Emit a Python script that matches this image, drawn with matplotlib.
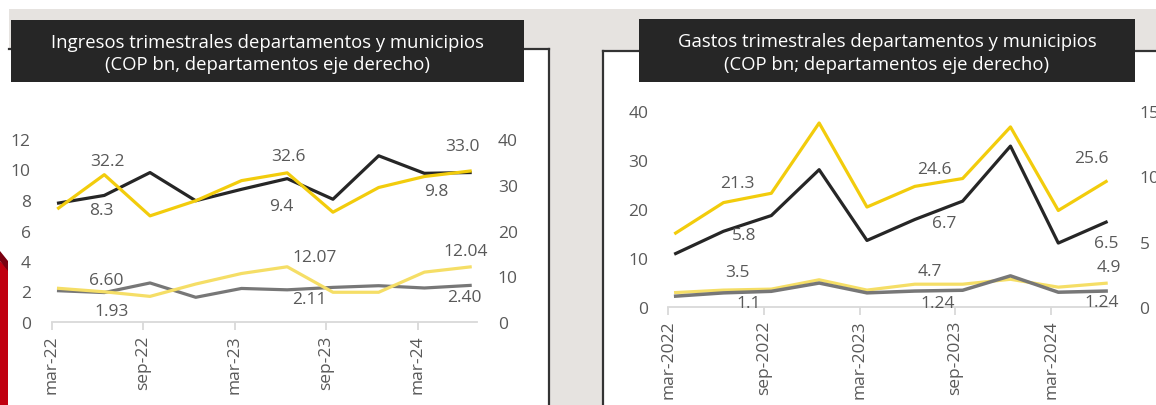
import matplotlib.pyplot as plt
from matplotlib.patches import Rectangle, Polygon
import numpy as np

plt.rcParams['font.family'] = ['Open Sans', 'DejaVu Sans']

W, H = 1156, 406

# Ingresos (left chart)
quarters_ing = ["mar-22", "jun-22", "sep-22", "dec-22", "mar-23",
                "jun-23", "sep-23", "dec-23", "mar-24", "jun-24"]
ing_mun_total = [7.8, 8.3, 9.8, 7.95, 8.7, 9.4, 8.05, 10.9, 9.75, 9.8]
ing_dep_total = [24.9, 32.2, 23.2, 26.5, 30.9, 32.6, 24.0, 29.4, 31.8, 33.0]
ing_mun_other = [2.05, 1.93, 2.56, 1.62, 2.2, 2.11, 2.27, 2.38, 2.23, 2.40]
ing_dep_other = [7.36, 6.60, 5.6, 8.3, 10.6, 12.07, 6.5, 6.5, 10.9, 12.04]

# Gastos (right chart)
quarters_gas = ["mar-2022", "jun-2022", "sep-2022", "dec-2022", "mar-2023",
                "jun-2023", "sep-2023", "dec-2023", "mar-2024", "jun-2024"]
gas_mun_total = [15.1, 21.3, 23.2, 37.5, 20.4, 24.6, 26.2, 36.7, 19.7, 25.6]
gas_dep_total = [4.1, 5.8, 7.0, 10.5, 5.1, 6.7, 8.1, 12.3, 4.9, 6.5]
gas_mun_other = [3.0, 3.5, 3.7, 5.6, 3.5, 4.7, 4.7, 5.7, 4.1, 4.9]
gas_dep_other = [0.85, 1.1, 1.22, 1.85, 1.1, 1.24, 1.3, 2.4, 1.15, 1.24]

BLACK = '#262626'
YELLOW = '#f2cc0c'
LYELLOW = '#f5de66'
GRAY = '#777777'
TXT = '#595959'
BG = '#e6e3e0'


def fr(x0, y0, x1, y1):
    # pixel box (top-left origin) -> figure fraction rect args
    return (x0 / W, 1 - y1 / H), (x1 - x0) / W, (y1 - y0) / H


fig = plt.figure(figsize=(W / 100, H / 100), dpi=100)
fig.patch.set_facecolor('white')

# background & panels
for box, fc in [((9, 10, 1160, 410), BG),
                ((9, 50, 549, 410), 'white'),
                ((603, 52, 1160, 410), 'white')]:
    xy, w, h = fr(*box)
    fig.add_artist(Rectangle(xy, w, h, transform=fig.transFigure,
                             facecolor=fc, edgecolor='none', zorder=-5))

# panel borders
def hline(x0, x1, y):
    fig.add_artist(plt.Line2D([x0 / W, x1 / W], [1 - y / H, 1 - y / H],
                              transform=fig.transFigure, color='#333333', lw=1.6,
                              zorder=-4))

def vline(x, y0, y1):
    fig.add_artist(plt.Line2D([x / W, x / W], [1 - y0 / H, 1 - y1 / H],
                              transform=fig.transFigure, color='#333333', lw=1.6,
                              zorder=-4))

hline(9, 549, 50)
vline(549, 50, 410)
hline(603, 1160, 52)
vline(603, 52, 410)

# red shape at the left edge
fig.add_artist(Polygon([(0, 1 - 262 / H), (8 / W, 1 - 270 / H), (8 / W, 0), (0, 0)],
                       closed=True, transform=fig.transFigure,
                       facecolor='#c00010', edgecolor='none', zorder=-4))
fig.add_artist(Polygon([(0, 1 - 252 / H), (8 / W, 1 - 262 / H), (8 / W, 1 - 272 / H),
                        (0, 1 - 262 / H)], closed=True, transform=fig.transFigure,
                       facecolor='#7a0010', edgecolor='none', zorder=-4))

# title boxes
titles = [("Ingresos trimestrales departamentos y municipios\n(COP bn, departamentos eje derecho)",
           (11, 21, 524, 83)),
          ("Gastos trimestrales departamentos y municipios\n(COP bn; departamentos eje derecho)",
           (639, 20, 1135, 83))]
for txt, box in titles:
    xy, w, h = fr(*box)
    fig.add_artist(Rectangle(xy, w, h, transform=fig.transFigure,
                             facecolor='#262626', edgecolor='none', zorder=-3))
    fig.text((box[0] + box[2]) / 2 / W, 1 - ((box[1] + box[3]) / 2 + 2) / H, txt,
             color='white', fontsize=13.3, ha='center', va='center',
             linespacing=1.3, zorder=-2)


def style_axes(ax, ax2, xlim, ticks, ticklabels, lpad, rpad):
    for a in (ax, ax2):
        a.set_facecolor('none')
        for s in a.spines.values():
            s.set_visible(False)
        a.set_xlim(*xlim)
    ax.spines['bottom'].set_visible(True)
    ax.spines['bottom'].set_color('#d9d9d9')
    ax.spines['bottom'].set_linewidth(1.3)
    ax.set_xticks(ticks)
    ax.set_xticklabels(ticklabels, rotation=90, color=TXT, fontsize=12.5)
    ax.tick_params(axis='x', length=6, color='#d9d9d9', width=1.3, pad=3)
    ax.tick_params(axis='y', length=0, labelsize=12.5, labelcolor=TXT, pad=lpad)
    ax2.tick_params(axis='y', length=0, labelsize=12.5, labelcolor=TXT, pad=rpad)


def label(ax, x, y, text, dx, dy):
    ax.annotate(text, (x, y), xytext=(dx, -dy), textcoords='offset pixels',
                ha='center', va='center', fontsize=12.5, color=TXT, zorder=5)


# ---------- left chart ----------
xl = np.arange(len(quarters_ing))
ax = fig.add_axes([51.7 / W, 83 / H, 425.3 / W, 183 / H])
ax2 = ax.twinx()
ax.plot(xl, ing_mun_total, color=BLACK, lw=2.3)
ax.plot(xl, ing_mun_other, color=GRAY, lw=2.3)
ax2.plot(xl, ing_dep_other, color=LYELLOW, lw=2.3)
ax2.plot(xl, ing_dep_total, color=YELLOW, lw=2.3)
ax.set_ylim(0, 12)
ax.set_yticks(range(0, 13, 2))
ax2.set_ylim(0, 40)
ax2.set_yticks(range(0, 41, 10))
style_axes(ax, ax2, (-0.15, 9.15), xl[::2] - 0.15, quarters_ing[::2], 15, 15)

label(ax2, 1, ing_dep_total[1], "32.2", 3, -14)
label(ax, 1, ing_mun_total[1], "8.3", -3, 15)
label(ax2, 5, ing_dep_total[5], "32.6", 1, -17)
label(ax, 5, ing_mun_total[5], "9.4", -6, 27)
label(ax2, 9, ing_dep_total[9], "33.0", -8, -25)
label(ax, 9, ing_mun_total[9], "9.8", -34, 18)
label(ax2, 1, ing_dep_other[1], "6.60", 2, -12)
label(ax, 1, ing_mun_other[1], "1.93", 7, 18)
label(ax2, 5, ing_dep_other[5], "12.07", 27, -10)
label(ax, 5, ing_mun_other[5], "2.11", 22, 9)
label(ax2, 9, ing_dep_other[9], "12.04", -4, -16)
label(ax, 9, ing_mun_other[9], "2.40", -6, 12)

# ---------- right chart ----------
xr = np.arange(len(quarters_gas))
bx = fig.add_axes([668 / W, 97.7 / H, 441 / W, 196.6 / H])
bx2 = bx.twinx()
bx2.plot(xr, gas_dep_other, color=GRAY, lw=2.5)
bx2.plot(xr, gas_dep_total, color=BLACK, lw=2.3)
bx.plot(xr, gas_mun_other, color=LYELLOW, lw=2.3)
bx.plot(xr, gas_mun_total, color=YELLOW, lw=2.3)
bx.set_ylim(0, 40)
bx.set_yticks(range(0, 41, 10))
bx2.set_ylim(0, 15)
bx2.set_yticks(range(0, 16, 5))
style_axes(bx, bx2, (-0.16, 9.06), xr[::2] - 0.15, quarters_gas[::2], 14, 22)
# yellow series (left axis) drawn under the right-axis lines
bx.set_zorder(1)
bx2.set_zorder(2)

label(bx, 1, gas_mun_total[1], "21.3", 14, -20)
label(bx2, 1, gas_dep_total[1], "5.8", 21, 4)
label(bx, 1, gas_mun_other[1], "3.5", 14, -18)
label(bx2, 1, gas_dep_other[1], "1.1", 25, 10)
label(bx, 5, gas_mun_total[5], "24.6", 20, -17)
label(bx2, 5, gas_dep_total[5], "6.7", 29, 4)
label(bx, 5, gas_mun_other[5], "4.7", 15, -13)
label(bx2, 5, gas_dep_other[5], "1.24", 23, 12)
label(bx, 9, gas_mun_total[9], "25.6", -15, -23)
label(bx2, 9, gas_dep_total[9], "6.5", 0, 21)
label(bx, 9, gas_mun_other[9], "4.9", 3, -16)
label(bx2, 9, gas_dep_other[9], "1.24", -4, 11)

fig.savefig('out.png', dpi=100)
